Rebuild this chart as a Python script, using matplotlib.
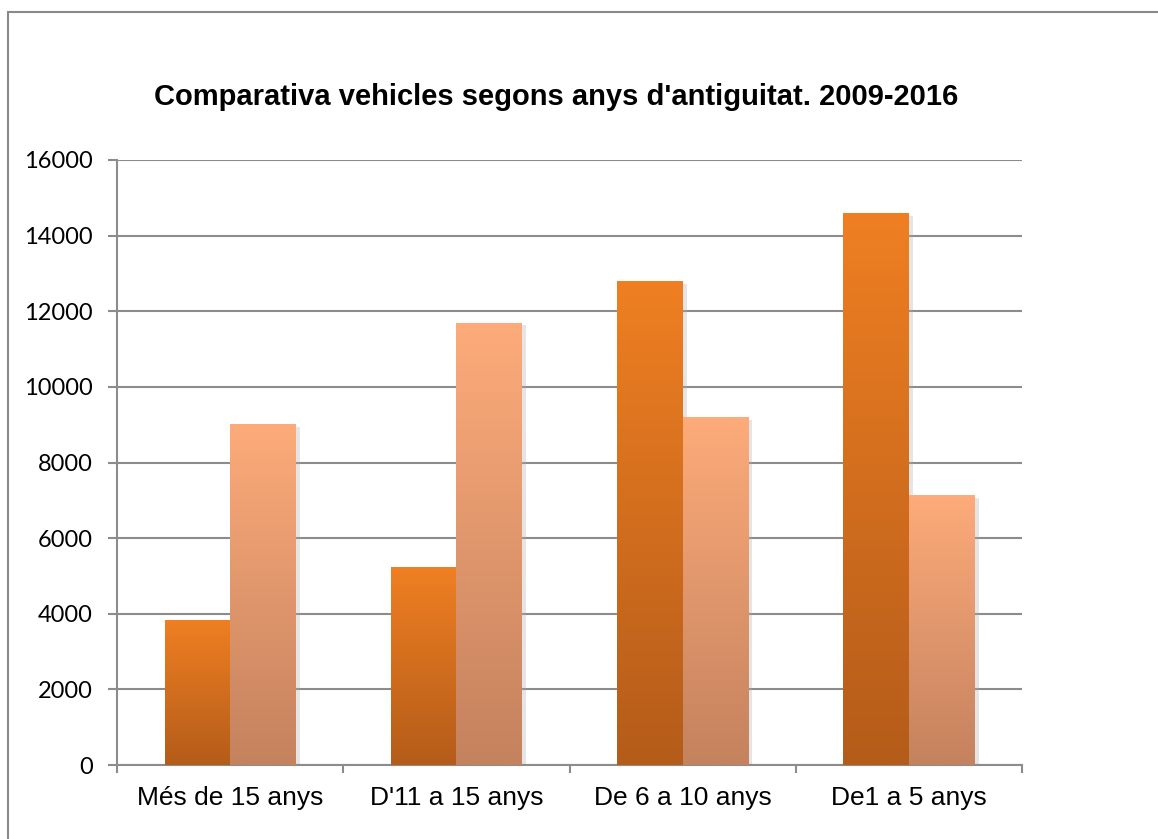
import numpy as np
import matplotlib
matplotlib.use("Agg")
import matplotlib.pyplot as plt
from matplotlib.colors import LinearSegmentedColormap
from matplotlib.patches import Rectangle
import matplotlib.patheffects as pe

plt.rcParams['font.family'] = ['Liberation Sans', 'DejaVu Sans']

# Vehicle age groups and counts per year
categories = ["Més de 15 anys", "D'11 a 15 anys", "De 6 a 10 anys", "De1 a 5 anys"]
vehicles_2009 = [3830, 5230, 12800, 14600]
vehicles_2016 = [9020, 11700, 9200, 7140]
yticks = [0, 2000, 4000, 6000, 8000, 10000, 12000, 14000, 16000]
title = "Comparativa vehicles segons anys d'antiguitat. 2009-2016"

W, H = 1158, 839
fig = plt.figure(figsize=(W / 100, H / 100), dpi=100)
fig.patch.set_facecolor('white')

# outer chart border (left and top edges visible)
fig.add_artist(Rectangle((8 / W, -0.05), 1.2, 1 - 12 / H + 0.05, transform=fig.transFigure,
                         fill=False, edgecolor='#8a8a8a', linewidth=1.5))

ax = fig.add_axes([117 / W, 1 - 765 / H, (1022 - 117) / W, (765 - 160) / H])
ax.set_ylim(0, 16000)
ax.set_xlim(-0.5, len(categories) - 0.5)

grid_color = '#8c8c8c'
for s in ['top', 'right']:
    ax.spines[s].set_visible(False)
for s in ['left', 'bottom']:
    ax.spines[s].set_color(grid_color)
    ax.spines[s].set_linewidth(1.5)

ax.set_yticks(yticks)
ax.set_yticklabels([str(v) for v in yticks], family=['Lato', 'DejaVu Sans'], fontsize=17)
ax.yaxis.grid(True, color=grid_color, linewidth=1.5)
ax.set_axisbelow(True)
ax.tick_params(axis='y', length=6.5, width=1.5, color=grid_color, pad=11)

x = np.arange(len(categories))
ax.set_xticks(x)
ax.set_xticklabels(categories, fontsize=19)
ax.tick_params(axis='x', which='major', length=0, pad=15)
ax.set_xticks(np.arange(len(categories) + 1) - 0.5, minor=True)
ax.tick_params(axis='x', which='minor', length=6, width=1.5, color=grid_color)

cmap_a = LinearSegmentedColormap.from_list('a', ['#B45C1A', '#EF7F22'])
cmap_b = LinearSegmentedColormap.from_list('b', ['#C4825E', '#FDAB7A'])
grad = np.linspace(0, 1, 256).reshape(-1, 1)

bw = 0.29
shadow = [pe.SimplePatchShadow(offset=(3, -2), shadow_rgbFace='#aaaaaa', alpha=0.3), pe.Normal()]

def gradient_bars(xs, vals, cmap):
    bars = ax.bar(xs, vals, width=bw, color='none', edgecolor='none', zorder=2)
    for b in bars:
        x0, y0 = b.get_x(), b.get_y()
        w, h = b.get_width(), b.get_height()
        back = Rectangle((x0, y0), w, h, facecolor='white', edgecolor='none', zorder=2)
        back.set_path_effects(shadow)
        ax.add_patch(back)
        im = ax.imshow(grad, cmap=cmap, aspect='auto', origin='lower',
                       extent=(x0, x0 + w, y0, y0 + h), zorder=3, interpolation='bilinear')
        im.set_clip_path(b)

gradient_bars(x - bw / 2, vehicles_2009, cmap_a)
gradient_bars(x + bw / 2, vehicles_2016, cmap_b)
ax.set_xlim(-0.5, len(categories) - 0.5)
ax.set_ylim(0, 16000)

fig.text(556 / W, 1 - 97 / H, title, ha='center', va='center',
         fontsize=21, fontweight='bold')

fig.savefig('out.png', dpi=100, facecolor='white')
